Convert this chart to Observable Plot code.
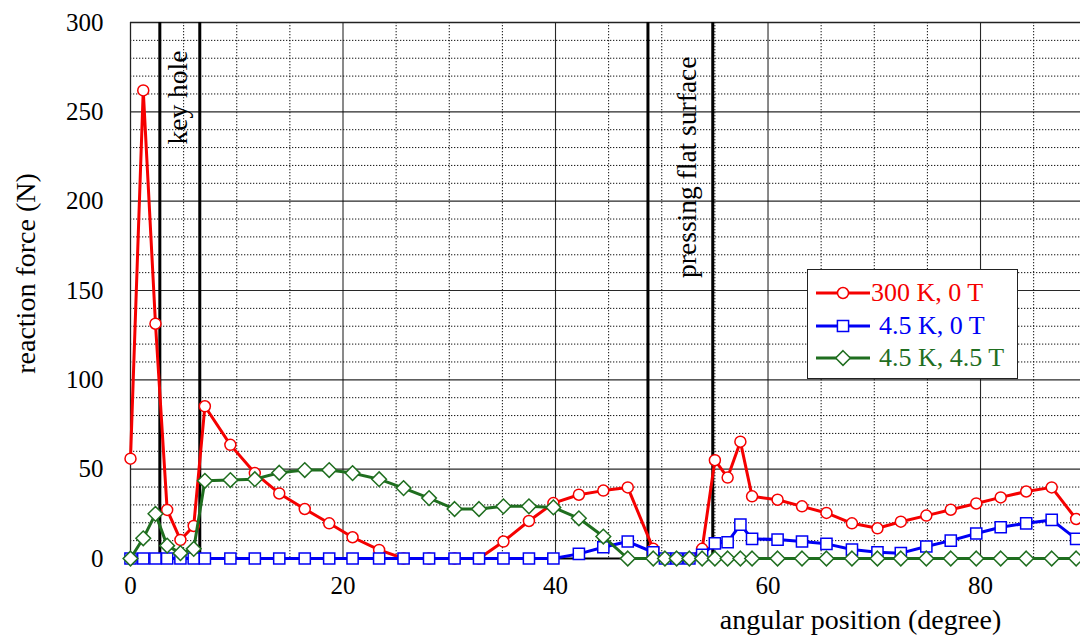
<!DOCTYPE html>
<html>
<head>
<meta charset="utf-8">
<script src="https://cdn.jsdelivr.net/npm/d3@7"></script>
<script src="https://cdn.jsdelivr.net/npm/@observablehq/plot@0.6"></script>
<style>
  body { margin: 0; background: #fff; }
  #wrap { position: relative; width: 1080px; height: 637px; overflow: hidden; font-family: "Liberation Serif", "Times New Roman", serif; }
  #legend { position: absolute; left: 807px; top: 269px; width: 209px; height: 108px; border: 1.5px solid #222; background: #fff; }
  .row { position: absolute; left: 8px; height: 32px; display: flex; align-items: center; font-size: 26px; white-space: pre; }
  .row svg { display: block; }
</style>
</head>
<body>
<div id="wrap"></div>
<script>
// angular position (degree) of every measured point
const angle = [0, 1.2, 2.35, 3.45, 4.7, 5.95, 7.0, 9.4, 11.7, 14.0, 16.4, 18.7, 20.9, 23.4, 25.7, 28.1, 30.5, 32.8, 35.1, 37.5, 39.8, 42.2, 44.5, 46.8, 49.2, 50.3, 51.4, 52.6, 53.8, 55.0, 56.2, 57.4, 58.5, 60.9, 63.2, 65.5, 67.9, 70.3, 72.5, 74.9, 77.2, 79.6, 81.9, 84.3, 86.7, 89.0];
// reaction force (N)
const force300K0T = [55.9, 262, 131.4, 27.2, 10.4, 18.2, 85.2, 63.6, 47.8, 36.4, 27.7, 19.7, 11.9, 4.8, 0, 0, 0, 0, 9.5, 21, 31, 35.7, 38, 39.8, 5.4, 0, 0, 0, 5.4, 55, 45.3, 65.4, 34.8, 32.9, 29.2, 25.5, 19.7, 16.9, 20.6, 24, 27.3, 30.8, 34.2, 37.5, 39.8, 22.1];
const force45K0T = [0, 0, 0, 0, 0, 0, 0, 0, 0, 0, 0, 0, 0, 0, 0, 0, 0, 0, 0, 0, 0, 2.6, 6.3, 9.5, 3.5, 0, 0, 0, 2, 8.5, 9.1, 19, 11, 10.6, 9.5, 8.2, 5, 3.5, 3, 6.7, 10, 14, 17.5, 19.7, 21.6, 11];
const force45K45T = [0, 11.3, 25, 7.2, 3, 5.4, 43.5, 43.9, 44.4, 48, 49.5, 49.5, 47.8, 44.4, 39.4, 33.8, 27.7, 27.7, 29.2, 29.2, 28.6, 22.5, 12.3, 0, 0, 0, 0, 0, 0, 0, 0, 0, 0, 0, 0, 0, 0, 0, 0, 0, 0, 0, 0, 0, 0, 0];

const seriesNames = ["300 K, 0 T", "4.5 K, 0 T", "4.5 K, 4.5 T"];
const seriesColors = ["#f50000", "#0000f5", "#1f6e1f"];
const seriesSymbols = ["circle", "square", "diamond2"];

const xTicks = [0, 20, 40, 60, 80];
const yTicks = [0, 50, 100, 150, 200, 250, 300];
const xMinor = [5, 10, 15, 25, 30, 35, 45, 50, 55, 65, 70, 75, 85];
const yMinor = [10, 20, 30, 40, 60, 70, 80, 90, 110, 120, 130, 140, 160, 170, 180, 190, 210, 220, 230, 240, 260, 270, 280, 290];
const regionLines = [2.76, 6.52, 48.7, 54.8];
const regionLabels = ["key hole", "pressing flat surface"];
const regionLabelX = [4.52, 52.4];
const regionLabelY = [258, 219];
const xTitle = "angular position (degree)";
const yTitle = "reaction force (N)";

const seriesValues = [force300K0T, force45K0T, force45K45T];
const series = seriesNames.map((name, k) => angle.map((a, i) => ({angle: a, force: seriesValues[k][i], name})));
const labels = regionLabels.map((t, i) => ({text: t, x: regionLabelX[i], y: regionLabelY[i]}));

const symbolR = {circle: 5.5, square: 6.3, diamond2: 6.6};

const marks = [
  Plot.gridX(xMinor, {stroke: "#111", strokeOpacity: 1, strokeWidth: 1, strokeDasharray: "1.3,1.7"}),
  Plot.gridY(yMinor, {stroke: "#111", strokeOpacity: 1, strokeWidth: 1, strokeDasharray: "1.3,1.7"}),
  Plot.gridX(xTicks.filter(d => d > 0), {stroke: "#111", strokeOpacity: 0.9, strokeWidth: 1.1}),
  Plot.gridY(yTicks.filter(d => d > 0 && d < 300), {stroke: "#111", strokeOpacity: 0.9, strokeWidth: 1.1}),
  Plot.ruleY([300], {stroke: "#222", strokeWidth: 1.3}),
  Plot.ruleX([0], {stroke: "#222", strokeWidth: 1.3}),
  Plot.ruleY([0], {stroke: "#000", strokeWidth: 2.2}),
  Plot.ruleX(regionLines, {stroke: "#000", strokeWidth: 3}),
  Plot.text(labels, {x: "x", y: "y", text: "text", rotate: -90, fontSize: 27.5, fill: "#000", textAnchor: "middle"})
];
series.forEach((data, k) => {
  marks.push(Plot.line(data, {x: "angle", y: "force", stroke: seriesColors[k], strokeWidth: 3}));
  marks.push(Plot.dot(data, {x: "angle", y: "force", symbol: seriesSymbols[k], r: symbolR[seriesSymbols[k]], fill: "white", stroke: seriesColors[k], strokeWidth: 1.5}));
});
marks.push(
  Plot.axisY({ticks: yTicks, tickSize: 0, tickPadding: 27, label: null, fontSize: 25}),
  Plot.axisX({ticks: xTicks, tickSize: 0, tickPadding: 18, label: null, fontSize: 25}),
  Plot.text([yTitle], {frameAnchor: "left", dx: -104, dy: -17, rotate: -90, fontSize: 28, fill: "#000", textAnchor: "middle", lineAnchor: "middle"}),
  Plot.text([xTitle], {frameAnchor: "bottom-right", dx: -220, dy: 62, fontSize: 28, fill: "#000", textAnchor: "middle", lineAnchor: "middle"})
);

const chart = Plot.plot({
  width: 1080,
  height: 637,
  marginLeft: 130,
  marginRight: 0,
  marginTop: 22,
  marginBottom: 79,
  x: {domain: [0, 89.41]},
  y: {domain: [0, 300]},
  style: {fontFamily: "'Liberation Serif', 'Times New Roman', serif", color: "#000", background: "#fff", overflow: "hidden"},
  marks
});
const wrap = document.getElementById("wrap");
wrap.appendChild(chart);

// legend (inside the plot area, as in the reference)
const legend = document.createElement("div");
legend.id = "legend";
const rowTops = [7, 40, 72];
const textLeft = [55, 63, 63];
seriesNames.forEach((name, k) => {
  const row = document.createElement("div");
  row.className = "row";
  row.style.top = rowTops[k] + "px";
  row.style.color = seriesColors[k];
  const ns = "http://www.w3.org/2000/svg";
  const svg = document.createElementNS(ns, "svg");
  svg.setAttribute("width", 54); svg.setAttribute("height", 20);
  const ln = document.createElementNS(ns, "line");
  ln.setAttribute("x1", 0); ln.setAttribute("x2", 54); ln.setAttribute("y1", 10); ln.setAttribute("y2", 10);
  ln.setAttribute("stroke", seriesColors[k]); ln.setAttribute("stroke-width", 3);
  svg.appendChild(ln);
  const sym = document.createElementNS(ns, "path");
  sym.setAttribute("d", d3.symbol(k === 0 ? d3.symbolCircle : k === 1 ? d3.symbolSquare : d3.symbolDiamond2, Math.PI * Math.pow([5.5, 6.3, 6.6][k], 2))());
  sym.setAttribute("transform", "translate(27,10)");
  sym.setAttribute("fill", "white"); sym.setAttribute("stroke", seriesColors[k]); sym.setAttribute("stroke-width", 1.5);
  svg.appendChild(sym);
  row.appendChild(svg);
  const span = document.createElement("span");
  span.textContent = name;
  span.style.marginLeft = (textLeft[k] - 54) + "px";
  row.appendChild(span);
  legend.appendChild(row);
});
wrap.appendChild(legend);
</script>
</body>
</html>
